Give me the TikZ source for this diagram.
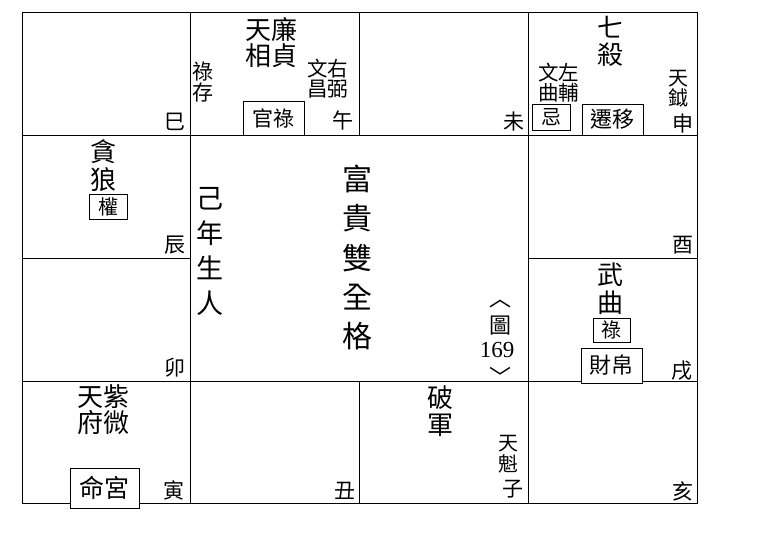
\documentclass[tikz,border=0pt]{standalone}
\usepackage{fontspec}
\setmainfont{Noto Sans CJK TC}
\newfontfamily\numfont{Liberation Serif}
\begin{document}
\begin{tikzpicture}[x=1pt,y=-1pt,
  star/.style={inner sep=0, align=center, font=\fontsize{26}{27}\selectfont},
  minor/.style={inner sep=0, align=center, font=\fontsize{20}{20}\selectfont},
  branch/.style={inner sep=0, font=\fontsize{21}{21}\selectfont},
  tag/.style={draw, fill=white, inner sep=0, line width=0.8pt, font=\fontsize{20}{20}\selectfont},
  title/.style={inner sep=0, align=center},
  gridline/.style={line width=0.9pt}]
\useasboundingbox (0,0) rectangle (760,546);
% grid
\draw[gridline] (22,12) rectangle (697,503);
\draw[gridline] (22,135) -- (697,135);
\draw[gridline] (22,381) -- (697,381);
\draw[gridline] (22,258) -- (190,258);
\draw[gridline] (528,258) -- (697,258);
\draw[gridline] (190,12) -- (190,503);
\draw[gridline] (528,12) -- (528,503);
\draw[gridline] (359,12) -- (359,135);
\draw[gridline] (359,381) -- (359,503);
% si
\node[branch] (si) at (175,122) {巳};
% wu
\node[star, font=\fontsize{26}{26.5}\selectfont] (lianzhen) at (271.5,42.5) {天廉\\相貞};
\node[minor, font=\fontsize{21}{21}\selectfont] (lucun) at (203,82.5) {祿\\存};
\node[minor, font=\fontsize{20.5}{20}\selectfont] (wenyou) at (327.5,79) {文右\\昌弼};
\node[tag, minimum width=61, minimum height=34, font=\fontsize{21}{21}\selectfont] (guanlu) at (273.5,118) {官祿};
\node[branch] (wu) at (343,120) {午};
% wei
\node[branch] (wei) at (514,122) {未};
% shen
\node[star] (qisha) at (610,41.5) {七\\殺};
\node[minor, font=\fontsize{20.5}{18.5}\selectfont] (wenzuo) at (558.5,83) {文左\\曲輔};
\node[tag, minimum width=38, minimum height=26] (ji) at (551,117) {忌};
\node[tag, minimum width=61, minimum height=31, font=\fontsize{22}{22}\selectfont] (qianyi) at (612.5,119.5) {遷移};
\node[minor] (tianyue) at (678,89) {天\\鉞};
\node[branch] (shen) at (683,124) {申};
% chen
\node[star, font=\fontsize{26}{28}\selectfont] (tanlang) at (103,166) {貪\\狼};
\node[tag, minimum width=38, minimum height=25] (quan) at (108,206.5) {權};
\node[branch] (chen) at (175,245) {辰};
% you
\node[branch] (you) at (683,245) {酉};
% mao
\node[branch] (mao) at (175,368) {卯};
% centre
\node[title, font=\fontsize{27}{35}\selectfont] (jinian) at (210,251.5) {己\\年\\生\\人};
\node[title, font=\fontsize{30}{39.25}\selectfont] (fugui) at (357,257.5) {富\\貴\\雙\\全\\格};
\node[inner sep=0, font=\fontsize{22}{22}\selectfont] (brl) at (500,304) {︿};
\node[inner sep=0, font=\fontsize{22}{22}\selectfont] (tu) at (500,326) {圖};
\node[inner sep=0, font=\numfont\fontsize{23}{23}\selectfont] (num) at (497,350) {169};
\node[inner sep=0, font=\fontsize{22}{22}\selectfont] (brr) at (500,376) {﹀};
% xu
\node[star, font=\fontsize{26}{28}\selectfont] (wuqu) at (610,289) {武\\曲};
\node[tag, minimum width=37, minimum height=24] (lu) at (611.5,330) {祿};
\node[tag, minimum width=61, minimum height=35, font=\fontsize{22}{22}\selectfont] (caibo) at (611.5,365.5) {財帛};
\node[branch] (xu) at (682,371) {戌};
% yin
\node[star, font=\fontsize{26}{26}\selectfont] (ziwei) at (103.5,410) {天紫\\府微};
\node[tag, minimum width=69, minimum height=40, font=\fontsize{25}{25}\selectfont] (minggong) at (104.5,488) {命宮};
\node[branch] (yin) at (174,490) {寅};
% chou
\node[branch] (chou) at (345,491) {丑};
% zi
\node[star] (pojun) at (440,411.5) {破\\軍};
\node[minor, font=\fontsize{20}{21}\selectfont] (tiankui) at (508,454.5) {天\\魁};
\node[branch] (zi) at (513,489) {子};
% hai
\node[branch] (hai) at (683,491) {亥};
\end{tikzpicture}
\end{document}
